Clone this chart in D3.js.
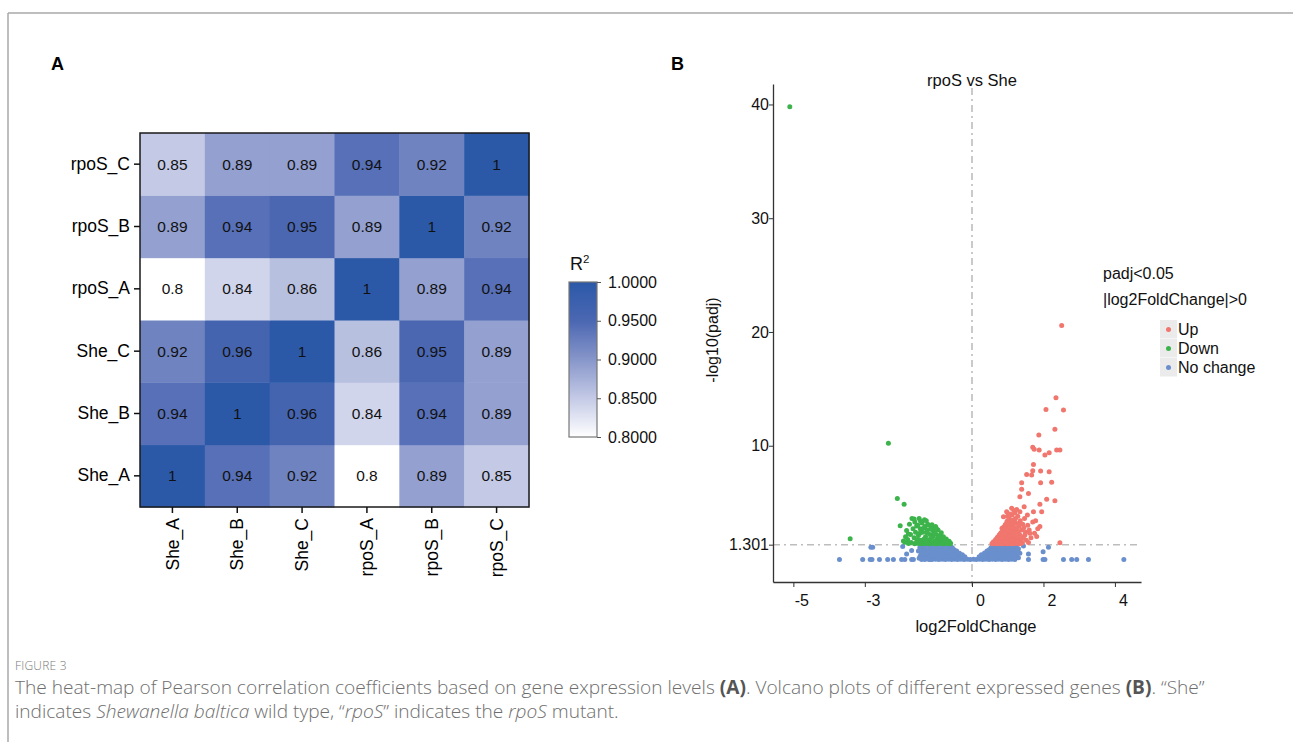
<!DOCTYPE html>
<html>
<head>
<meta charset="utf-8">
<script src="https://cdn.jsdelivr.net/npm/d3@7/dist/d3.min.js"></script>
<style>
body { margin: 0; background: #fff; }
svg { display: block; }
</style>
</head>
<body>
<script>
// ---- data: heat-map ----
var samples = ['She_A', 'She_B', 'She_C', 'rpoS_A', 'rpoS_B', 'rpoS_C'];
var corr = [
    [1, 0.94, 0.92, 0.8, 0.89, 0.85],
    [0.94, 1, 0.96, 0.84, 0.94, 0.89],
    [0.92, 0.96, 1, 0.86, 0.95, 0.89],
    [0.8, 0.84, 0.86, 1, 0.89, 0.94],
    [0.89, 0.94, 0.95, 0.89, 1, 0.92],
    [0.85, 0.89, 0.89, 0.94, 0.92, 1]
];
var legendTicks = [0.8, 0.85, 0.9, 0.95, 1];

// ---- data: volcano (log2FoldChange, -log10 padj) ----
var xTicks = [-5, -3, 0, 2, 4];
var yTicks = [1.301, 10, 20, 30, 40];
var threshold = 1.301;

var upPoints = [
    [2.51, 20.58], [2.35, 14.22], [2.07, 13.19], [2.56, 13.14], [2.32, 11.44], [1.87, 10.94],
    [1.70, 9.86], [1.74, 9.68], [1.88, 9.62], [2.16, 9.39], [2.04, 9.18], [2.37, 9.62], [2.46, 9.62],
    [1.72, 8.36], [1.70, 7.81], [1.92, 7.78], [2.16, 7.72], [1.67, 7.43], [1.53, 7.48], [2.23, 6.78],
    [1.92, 6.75], [1.39, 6.75], [1.39, 6.17], [1.58, 5.81], [1.34, 5.52], [2.09, 5.29], [2.32, 5.17],
    [1.46, 4.64], [1.90, 4.85], [1.72, 4.20], [1.95, 4.20], [1.34, 4.20], [1.11, 4.50], [0.97, 4.20],
    [0.88, 3.76], [1.90, 2.89], [1.62, 2.30], [1.81, 2.01], [2.46, 1.48],
    [0.56, 1.40], [0.60, 1.55], [0.63, 1.45], [0.66, 1.75], [0.69, 1.50], [0.71, 1.95], [0.74, 1.62],
    [0.76, 2.15], [0.78, 1.80], [0.80, 1.42], [0.81, 2.35], [0.83, 1.65], [0.85, 2.05], [0.86, 2.60],
    [0.88, 1.50], [0.89, 2.85], [0.90, 2.20], [0.92, 1.85], [0.93, 3.05], [0.94, 2.55], [0.96, 1.48],
    [0.97, 2.05], [0.98, 3.35], [1.00, 2.40], [1.01, 1.70], [1.02, 2.90], [1.04, 3.60], [1.05, 2.20],
    [1.07, 1.45], [1.08, 3.20], [1.09, 2.65], [1.11, 1.90], [1.12, 3.90], [1.13, 3.00], [1.15, 2.30],
    [1.16, 1.60], [1.18, 3.50], [1.19, 2.70], [1.21, 2.00], [1.23, 3.20], [1.24, 1.50], [1.26, 2.50],
    [1.28, 3.80], [1.29, 1.80], [1.31, 2.90], [1.33, 2.20], [1.35, 3.40], [1.37, 1.60], [1.39, 2.60],
    [1.42, 3.10], [1.44, 2.00], [1.47, 3.60], [1.50, 2.40], [1.52, 1.70], [1.56, 3.00], [1.60, 2.60],
    [1.65, 1.90], [1.70, 3.30], [1.75, 2.30], [1.41, 1.45], [1.30, 1.40], [1.58, 1.50], [1.20, 4.10],
    [0.99, 3.80], [1.06, 4.00], [1.17, 4.30], [1.25, 4.40], [1.55, 3.90], [1.78, 3.40], [1.84, 2.70],
    [0.59, 1.38], [0.67, 1.40], [0.72, 1.39], [0.77, 1.41], [0.85, 1.38], [0.92, 1.40], [0.99, 1.39],
    [1.04, 1.41], [1.12, 1.38], [1.19, 1.40], [1.27, 1.42], [1.34, 1.39], [0.70, 1.60], [0.79, 1.58],
    [0.87, 1.72], [0.95, 1.62], [1.03, 1.85], [1.10, 1.68], [1.18, 1.78], [1.26, 1.65], [1.33, 1.82],
    [0.74, 1.85], [0.83, 1.95], [0.91, 2.10], [0.99, 1.95], [1.06, 2.05], [1.14, 2.15], [1.24, 2.00],
    [0.79, 2.25], [0.87, 2.35], [0.95, 2.30], [1.03, 2.45], [1.11, 2.50], [1.20, 2.35], [1.29, 2.45],
    [0.84, 2.75], [0.92, 2.65], [1.00, 2.70], [1.07, 2.85], [1.16, 3.10], [1.25, 2.80], [0.95, 3.10],
    [1.03, 3.20], [1.10, 3.45], [1.22, 3.60], [1.32, 3.15], [1.45, 2.80], [1.48, 2.15], [1.40, 1.85]
];

var downPoints = [
    [-5.10, 39.80], [-2.34, 10.21], [-2.09, 5.35], [-1.90, 4.85], [-2.01, 2.97], [-1.78, 2.24],
    [-1.88, 1.51], [-3.41, 1.83],
    [-1.92, 1.62], [-1.86, 2.00], [-1.83, 2.55], [-1.80, 1.75], [-1.75, 3.10], [-1.72, 2.20],
    [-1.70, 1.50], [-1.68, 3.60], [-1.65, 2.70], [-1.62, 1.90], [-1.60, 3.30], [-1.58, 2.40],
    [-1.55, 1.55], [-1.52, 3.00], [-1.50, 2.10], [-1.48, 3.60], [-1.45, 2.70], [-1.42, 1.70],
    [-1.40, 3.20], [-1.38, 2.40], [-1.35, 1.50], [-1.32, 2.90], [-1.30, 2.00], [-1.28, 3.40],
    [-1.25, 2.60], [-1.22, 1.70], [-1.20, 3.00], [-1.18, 2.20], [-1.15, 1.50], [-1.12, 2.80],
    [-1.10, 2.00], [-1.08, 2.50], [-1.05, 1.60], [-1.02, 2.90], [-1.00, 2.20], [-0.98, 1.80],
    [-0.95, 2.60], [-0.92, 1.50], [-0.90, 2.10], [-0.86, 2.35], [-0.84, 1.70], [-0.80, 2.00],
    [-0.76, 1.50], [-0.72, 1.80], [-0.68, 1.48], [-0.64, 1.60], [-0.60, 1.42], [-1.62, 3.55],
    [-1.44, 3.35], [-1.33, 3.50], [-1.55, 2.95], [-1.12, 3.05], [-1.00, 2.75], [-0.88, 1.45],
    [-1.60, 1.38], [-1.50, 1.40], [-1.40, 1.39], [-1.30, 1.41], [-1.20, 1.38], [-1.10, 1.40],
    [-1.00, 1.39], [-0.90, 1.41], [-0.80, 1.38], [-0.70, 1.40], [-0.62, 1.39], [-1.52, 1.75],
    [-1.34, 1.80], [-1.16, 1.82], [-0.96, 1.70], [-0.78, 1.72], [-1.46, 2.30], [-1.26, 2.35],
    [-1.06, 2.30], [-0.92, 1.95], [-1.36, 2.75], [-1.16, 2.65], [-1.24, 3.10], [-1.78, 1.40]
];

var noChangePoints = [
    // sparse points at padj = 1
    [-3.71, 0], [-3.06, 0], [-2.85, 0], [-2.80, 0], [-2.59, 0], [-2.36, 0], [-2.20, 0],
    [-1.97, 0], [-1.88, 0], [-1.69, 0], [-1.64, 0], [-1.41, 0], [-1.18, 0],
    [1.58, 0], [1.99, 0], [2.04, 0], [2.56, 0], [2.79, 0], [2.93, 0], [3.26, 0], [4.25, 0],
    // other scattered points
    [-2.83, 1.07], [-2.78, 1.07], [-1.83, 0.48], [-1.69, 0.78], [-1.94, 1.13],
    [1.44, 1.19], [1.58, 0.48], [1.99, 0.69], [2.14, 1.07], [1.34, 0.54], [1.30, 0.95],
    // dense cloud
    [-1.32, 0], [-1.22, 0.02], [-1.12, 0], [-1.02, 0.03], [-0.93, 0], [-0.84, 0.02], [-0.75, 0],
    [-0.66, 0.01], [-0.57, 0], [-0.48, 0.02], [-0.40, 0], [-0.31, 0.01], [-0.22, 0], [-0.13, 0.02],
    [-0.05, 0], [0.04, 0.01], [0.12, 0], [0.21, 0.02], [0.30, 0], [0.39, 0.01], [0.48, 0],
    [0.57, 0.02], [0.66, 0], [0.75, 0.01], [0.84, 0], [0.93, 0.02], [1.02, 0], [1.11, 0.01], [1.20, 0],
    [-1.45, 0.30], [-1.35, 0.28], [-1.26, 0.32], [-1.17, 0.29], [-1.08, 0.31], [-0.99, 0.30],
    [-0.90, 0.28], [-0.81, 0.33], [-0.72, 0.30], [-0.63, 0.29], [-0.54, 0.31], [-0.45, 0.30],
    [-0.36, 0.28], [-0.28, 0.30], [-0.20, 0.24], [0.20, 0.25], [0.28, 0.31], [0.36, 0.29],
    [0.45, 0.30], [0.54, 0.32], [0.63, 0.28], [0.72, 0.30], [0.81, 0.31], [0.90, 0.29],
    [0.99, 0.30], [1.08, 0.33], [1.17, 0.28], [1.25, 0.30],
    [-1.42, 0.60], [-1.31, 0.62], [-1.21, 0.58], [-1.11, 0.61], [-1.01, 0.60], [-0.91, 0.59],
    [-0.81, 0.62], [-0.71, 0.60], [-0.61, 0.58], [-0.51, 0.61], [-0.42, 0.60], [-0.35, 0.55],
    [0.35, 0.56], [0.42, 0.60], [0.51, 0.62], [0.61, 0.59], [0.71, 0.61], [0.81, 0.60],
    [0.91, 0.58], [1.01, 0.62], [1.11, 0.60], [1.21, 0.61],
    [-1.40, 0.90], [-1.30, 0.92], [-1.20, 0.88], [-1.10, 0.91], [-1.00, 0.90], [-0.90, 0.89],
    [-0.80, 0.92], [-0.70, 0.90], [-0.60, 0.88], [-0.50, 0.86], [0.48, 0.86], [0.58, 0.90],
    [0.68, 0.92], [0.78, 0.89], [0.88, 0.91], [0.98, 0.90], [1.08, 0.88], [1.18, 0.92],
    [-1.38, 1.20], [-1.28, 1.22], [-1.18, 1.18], [-1.08, 1.21], [-0.98, 1.20], [-0.88, 1.19],
    [-0.78, 1.22], [-0.68, 1.20], [-0.60, 1.15], [0.58, 1.16], [0.66, 1.21], [0.76, 1.19],
    [0.86, 1.22], [0.96, 1.20], [1.06, 1.18], [1.16, 1.21], [1.24, 1.20],
    [-0.27, 0.42], [0.26, 0.42], [-0.43, 0.75], [0.42, 0.74], [-0.55, 1.02], [0.53, 1.03],
    [-1.48, 0.10], [-1.50, 0.75], [-1.46, 1.05], [1.28, 0.75], [1.30, 0.15]
];

var W = 1293, H = 742;
var FONT = '"Liberation Sans", Arial, Helvetica, sans-serif';
var svg = d3.select('body').append('svg')
    .attr('width', W)
    .attr('height', H)
    .style('font-family', FONT);

// frame lines
svg.append('line').attr('x1', 8).attr('x2', W).attr('y1', 13).attr('y2', 13)
    .attr('stroke', '#a8a8a8').attr('stroke-width', 1.5);
svg.append('line').attr('x1', 8).attr('x2', 8).attr('y1', 13).attr('y2', H)
    .attr('stroke', '#a8a8a8').attr('stroke-width', 1.5);

// panel letters
svg.append('text').attr('x', 51).attr('y', 70).attr('font-size', 18).attr('font-weight', 'bold').text('A');
svg.append('text').attr('x', 671).attr('y', 70).attr('font-size', 18).attr('font-weight', 'bold').text('B');

// ================= A: heat-map =================
var hm = { left: 140, right: 529, top: 133, bottom: 507 };

var x = d3.scaleBand().domain(samples).range([hm.left, hm.right]);
var y = d3.scaleBand().domain(samples).range([hm.bottom, hm.top]);
var color = d3.scaleLinear()
    .domain([0.8, 0.85, 0.9, 0.95, 1])
    .range(['#ffffff', '#c4cae6', '#8796ca', '#4b67b2', '#2b59a8']);

var cells = [];
samples.forEach(function(r, i) {
    samples.forEach(function(c, j) {
        cells.push({ row: r, col: c, v: corr[i][j] });
    });
});

svg.append('g').selectAll('rect')
    .data(cells)
    .join('rect')
    .attr('x', function(d) { return x(d.col); })
    .attr('y', function(d) { return y(d.row); })
    .attr('width', x.bandwidth() + 0.5)
    .attr('height', y.bandwidth() + 0.5)
    .attr('fill', function(d) { return color(d.v); });

svg.append('g').selectAll('text')
    .data(cells)
    .join('text')
    .attr('x', function(d) { return x(d.col) + x.bandwidth() / 2; })
    .attr('y', function(d) { return y(d.row) + y.bandwidth() / 2; })
    .attr('dy', '0.35em')
    .attr('text-anchor', 'middle')
    .attr('font-size', 15.5)
    .attr('fill', '#111')
    .text(function(d) { return String(d.v); });

svg.append('rect')
    .attr('x', hm.left).attr('y', hm.top)
    .attr('width', hm.right - hm.left).attr('height', hm.bottom - hm.top)
    .attr('fill', 'none').attr('stroke', '#1a1a1a').attr('stroke-width', 1.5);

var yAxisA = svg.append('g')
    .attr('transform', 'translate(' + hm.left + ',0)')
    .call(d3.axisLeft(y).tickSize(6).tickPadding(4));
yAxisA.select('.domain').remove();
yAxisA.selectAll('line').attr('stroke', '#111').attr('stroke-width', 1.5);
yAxisA.selectAll('text').attr('font-size', 17.5).attr('fill', '#000').attr('font-family', FONT);

var xAxisA = svg.append('g')
    .attr('transform', 'translate(0,' + hm.bottom + ')')
    .call(d3.axisBottom(x).tickSize(6));
xAxisA.select('.domain').remove();
xAxisA.selectAll('line').attr('stroke', '#111').attr('stroke-width', 1.5);
xAxisA.selectAll('text')
    .attr('font-size', 17.5).attr('fill', '#000').attr('font-family', FONT)
    .attr('transform', 'rotate(-90)')
    .attr('text-anchor', 'end')
    .attr('x', -11).attr('y', 0).attr('dy', '0.35em');

// colour bar
var cb = { x: 569, w: 28, top: 282, bottom: 437 };
var grad = svg.append('defs').append('linearGradient')
    .attr('id', 'cbar').attr('x1', 0).attr('x2', 0).attr('y1', 1).attr('y2', 0);
legendTicks.forEach(function(t, i) {
    grad.append('stop')
        .attr('offset', (i / (legendTicks.length - 1)) * 100 + '%')
        .attr('stop-color', color(t));
});
svg.append('rect')
    .attr('x', cb.x).attr('y', cb.top)
    .attr('width', cb.w).attr('height', cb.bottom - cb.top)
    .attr('fill', 'url(#cbar)')
    .attr('stroke', '#777').attr('stroke-width', 1.2);

var ly = d3.scaleLinear().domain([0.8, 1]).range([cb.bottom, cb.top]);
var cbAxis = svg.append('g')
    .attr('transform', 'translate(' + (cb.x + cb.w) + ',0)')
    .call(d3.axisRight(ly).tickValues(legendTicks).tickSize(4).tickPadding(7)
        .tickFormat(d3.format('.4f')));
cbAxis.select('.domain').remove();
cbAxis.selectAll('line').attr('stroke', '#555');
cbAxis.selectAll('text').attr('font-size', 16).attr('fill', '#111').attr('font-family', FONT);

var r2 = svg.append('text').attr('x', 570).attr('y', 270).attr('font-size', 18).attr('fill', '#111');
r2.append('tspan').text('R');
r2.append('tspan').attr('font-size', 11.5).attr('dy', -7).text('2');

// ================= B: volcano =================
var vb = { left: 773, right: 1141, top: 84, bottom: 582 };
var vx = d3.scaleLinear().domain([-5.57, 4.73]).range([vb.left, vb.right]);
var vy = d3.scaleLinear().domain([-1.98, 41.8]).range([vb.bottom, vb.top]);

var colUp = '#f0766e', colDown = '#3cb44b', colNo = '#6a8fcd';

// reference lines
svg.append('line')
    .attr('x1', vx(0)).attr('x2', vx(0))
    .attr('y1', 88).attr('y2', 586)
    .attr('stroke', '#bdbdbd').attr('stroke-width', 1.6)
    .attr('stroke-dasharray', '7,4,2,4');
svg.append('line')
    .attr('x1', vb.left).attr('x2', vb.right)
    .attr('y1', vy(threshold)).attr('y2', vy(threshold))
    .attr('stroke', '#bdbdbd').attr('stroke-width', 1.6)
    .attr('stroke-dasharray', '7,4,2,4');

function drawPoints(data, fill) {
    svg.append('g').selectAll('circle')
        .data(data)
        .join('circle')
        .attr('cx', function(d) { return vx(d[0]); })
        .attr('cy', function(d) { return vy(d[1]); })
        .attr('r', 2.5)
        .attr('fill', fill);
}
drawPoints(noChangePoints, colNo);
drawPoints(upPoints, colUp);
drawPoints(downPoints, colDown);

var vxAxis = svg.append('g')
    .attr('transform', 'translate(0,' + vb.bottom + ')')
    .call(d3.axisBottom(vx).tickValues(xTicks).tickSize(5).tickPadding(8)
        .tickSizeOuter(0).tickFormat(d3.format('d')));
vxAxis.select('.domain').attr('stroke', '#333').attr('stroke-width', 1.3);
vxAxis.selectAll('.tick line').attr('stroke', '#333');
vxAxis.selectAll('text').attr('font-size', 16).attr('fill', '#111').attr('dx', 8)
    .attr('font-family', FONT)
    .text(function(d) { return String(d); });

var vyAxis = svg.append('g')
    .attr('transform', 'translate(' + vb.left + ',0)')
    .call(d3.axisLeft(vy).tickValues(yTicks).tickSize(4).tickPadding(0)
        .tickSizeOuter(0).tickFormat(function(d) { return String(d); }));
vyAxis.select('.domain').attr('stroke', '#333').attr('stroke-width', 1.3);
vyAxis.selectAll('.tick line').attr('stroke', '#333');
vyAxis.selectAll('text').attr('font-size', 16).attr('fill', '#111').attr('font-family', FONT);

svg.append('text')
    .attr('x', 972).attr('y', 86)
    .attr('text-anchor', 'middle').attr('font-size', 16.5).attr('fill', '#111')
    .text('rpoS vs She');
svg.append('text')
    .attr('x', 976).attr('y', 632)
    .attr('text-anchor', 'middle').attr('font-size', 16.5).attr('fill', '#111')
    .text('log2FoldChange');
svg.append('text')
    .attr('transform', 'translate(718,340) rotate(-90)')
    .attr('text-anchor', 'middle').attr('font-size', 16).attr('fill', '#111')
    .text('-log10(padj)');

// legend
svg.append('text').attr('x', 1103).attr('y', 279).attr('font-size', 16).attr('fill', '#111')
    .text('padj<0.05');
svg.append('text').attr('x', 1103).attr('y', 305).attr('font-size', 16).attr('fill', '#111')
    .text('|log2FoldChange|>0');

var legendItems = [
    { label: 'Up', color: colUp },
    { label: 'Down', color: colDown },
    { label: 'No change', color: colNo }
];
var lg = svg.append('g').attr('transform', 'translate(1160,320)');
var li = lg.selectAll('g').data(legendItems).join('g')
    .attr('transform', function(d, i) { return 'translate(0,' + (i * 19) + ')'; });
li.append('rect').attr('width', 17).attr('height', 18.5).attr('fill', '#ebebeb');
li.append('circle').attr('cx', 8.5).attr('cy', 9.5).attr('r', 2.5)
    .attr('fill', function(d) { return d.color; });
li.append('text').attr('x', 18).attr('y', 9.5).attr('dy', '0.35em')
    .attr('font-size', 16).attr('fill', '#111')
    .text(function(d) { return d.label; });

// ================= caption =================
var cap = svg.append('g').style('font-family', '"Open Sans", "Noto Sans", sans-serif')
    .attr('fill', '#6e6e6e').attr('font-weight', 300);
cap.append('text').attr('x', 15).attr('y', 670).attr('font-size', 12)
    .attr('fill', '#7a7a7a').attr('letter-spacing', 0.2).text('FIGURE 3');

var line1 = cap.append('text').attr('x', 15).attr('y', 694).attr('font-size', 16);
line1.append('tspan').text('The heat-map of Pearson correlation coefficients based on gene expression levels ');
line1.append('tspan').attr('font-weight', 'bold').attr('fill', '#555').text('(A)');
line1.append('tspan').text('. Volcano plots of different expressed genes ');
line1.append('tspan').attr('font-weight', 'bold').attr('fill', '#555').text('(B)');
line1.append('tspan').text('. \u201cShe\u201d');

var line2 = cap.append('text').attr('x', 15).attr('y', 718).attr('font-size', 16);
line2.append('tspan').text('indicates ');
line2.append('tspan').attr('font-style', 'italic').text('Shewanella baltica');
line2.append('tspan').text(' wild type, \u201c');
line2.append('tspan').attr('font-style', 'italic').text('rpoS');
line2.append('tspan').text('\u201d indicates the ');
line2.append('tspan').attr('font-style', 'italic').text('rpoS');
line2.append('tspan').text(' mutant.');

// fit caption width to the original line length
var len1 = line1.node().getComputedTextLength();
var fs = 16 * 1190 / len1;
line1.attr('font-size', fs);
line2.attr('font-size', fs);
</script>
</body>
</html>
